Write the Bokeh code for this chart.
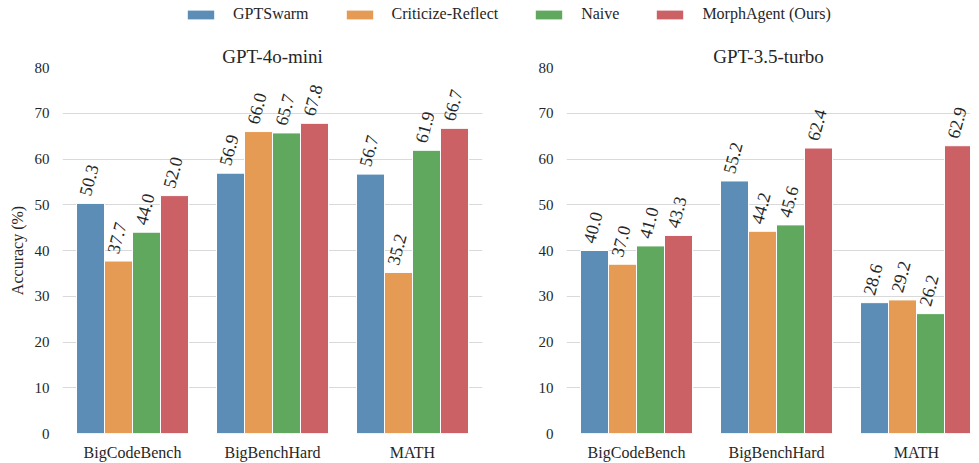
from bokeh.plotting import figure
from bokeh.models import Range1d, FixedTicker, Legend, LegendItem, ColumnDataSource, Spacer
from bokeh.layouts import column, row
from bokeh.core.properties import value
from bokeh.embed import file_html
from bokeh.resources import INLINE

categories = ["BigCodeBench", "BigBenchHard", "MATH"]
methods = ["GPTSwarm", "Criticize-Reflect", "Naive", "MorphAgent (Ours)"]
colors = ["#5b8db7", "#e69b55", "#5fa85e", "#cc6165"]

gpt4o_gptswarm = [50.3, 56.9, 56.7]
gpt4o_criticize = [37.7, 66.0, 35.2]
gpt4o_naive = [44.0, 65.7, 61.9]
gpt4o_morph = [52.0, 67.8, 66.7]

gpt35_gptswarm = [40.0, 55.2, 28.6]
gpt35_criticize = [37.0, 44.2, 29.2]
gpt35_naive = [41.0, 45.6, 26.2]
gpt35_morph = [43.3, 62.4, 62.9]

y_ticks = [0, 10, 20, 30, 40, 50, 60, 70, 80]

FONT = "Liberation Serif"
TXT = "#262626"
offsets = [-0.3, -0.1, 0.1, 0.3]
bar_w = 0.2


def panel(title, series, min_left, frame_w, min_right, x_end, ylabel, tick_standoff):
    p = figure(output_backend="svg", toolbar_location=None,
               frame_width=frame_w, frame_height=366,
               min_border_left=min_left, min_border_right=min_right,
               min_border_top=39, min_border_bottom=22,
               x_range=Range1d(-0.5, x_end), y_range=Range1d(0, 80))
    p.outline_line_color = None
    p.background_fill_color = "white"
    p.border_fill_color = "white"
    p.title.text = title
    p.title.align = "center"
    p.title.text_font = FONT
    p.title.text_font_size = "19px"
    p.title.text_font_style = "normal"
    p.title.text_color = TXT
    p.title.standoff = 2
    p.xgrid.grid_line_color = None
    p.ygrid.grid_line_color = "#d9d9d9"
    p.ygrid.grid_line_width = 1.2
    p.yaxis.ticker = FixedTicker(ticks=y_ticks)
    p.xaxis.ticker = FixedTicker(ticks=list(range(len(categories))))
    p.xaxis.major_label_overrides = {i: c for i, c in enumerate(categories)}
    for ax in (p.xaxis, p.yaxis):
        ax.axis_line_color = None
        ax.major_tick_line_color = None
        ax.minor_tick_line_color = None
        ax.major_label_text_font = FONT
        ax.major_label_text_color = TXT
    p.xaxis.major_label_text_font_size = "16px"
    p.xaxis.major_label_standoff = 4
    p.yaxis.major_label_text_font_size = "15px"
    p.yaxis.major_label_standoff = tick_standoff
    if ylabel:
        p.yaxis.axis_label = ylabel
        p.yaxis.axis_label_text_font = FONT
        p.yaxis.axis_label_text_font_size = "16px"
        p.yaxis.axis_label_text_font_style = "normal"
        p.yaxis.axis_label_text_color = TXT
        p.yaxis.axis_label_standoff = 6
    for vals, off, col in zip(series, offsets, colors):
        src = ColumnDataSource(dict(
            x=[i + off for i in range(len(categories))],
            top=vals,
            label=[f"{v:.1f}" for v in vals]))
        p.vbar(x="x", top="top", width=bar_w, source=src, fill_color=col,
               line_color="white", line_width=1)
        p.text(x="x", y="top", text="label", source=src, angle=75,
               angle_units="deg", text_align="left", text_baseline="middle",
               x_offset=-6, y_offset=-8, text_font=value(FONT),
               text_font_size="18px", text_color=TXT)
    return p


p1 = panel("GPT-4o-mini",
           [gpt4o_gptswarm, gpt4o_criticize, gpt4o_naive, gpt4o_morph],
           50, 420, 28, 2.5, "Accuracy (%)", 7)
p2 = panel("GPT-3.5-turbo",
           [gpt35_gptswarm, gpt35_criticize, gpt35_naive, gpt35_morph],
           56, 404, 0, -0.5 + 404 / 140, None, 7)

# legend figure (swatches drawn outside the visible range, only for the legend)
lg = figure(output_backend="svg", toolbar_location=None, width=963, height=28,
            x_range=Range1d(0, 1), y_range=Range1d(0, 1),
            min_border=0)
lg.axis.visible = False
lg.grid.visible = False
lg.outline_line_color = None
items = []
for m, col in zip(methods, colors):
    src = ColumnDataSource(dict(x=[5.0], top=[5.0]))
    r = lg.vbar(x="x", top="top", source=src, width=0.1, fill_color=col,
                line_color=None)
    items.append(LegendItem(label=m, renderers=[r]))
legend = Legend(items=items, orientation="horizontal", location=(184, 5),
                glyph_width=33, glyph_height=11, label_standoff=16, spacing=34,
                padding=2, margin=0, border_line_color=None,
                background_fill_alpha=0)
legend.label_text_font = FONT
legend.label_text_font_size = "16px"
legend.label_text_font_style = "normal"
legend.label_text_color = TXT
lg.add_layout(legend, "center")

layout = column(lg, row(Spacer(width=5, height=10), p1, p2, spacing=0), spacing=0)
open("out.html", "w").write(file_html(layout, INLINE))
